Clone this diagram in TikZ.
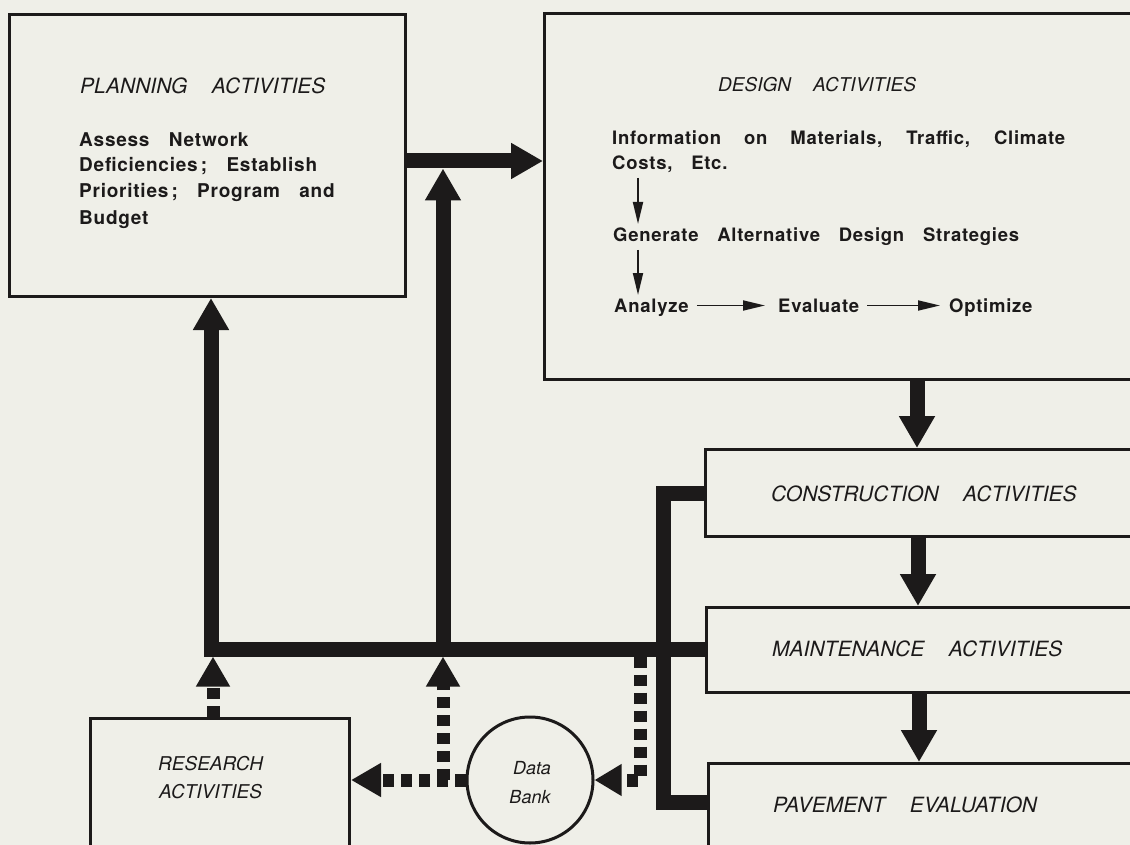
\documentclass[tikz,border=0pt]{standalone}
\usepackage{fontspec}
\setmainfont{TeX Gyre Heros}
\newfontfamily\ttlfont[WordSpace=4.2]{TeX Gyre Heros}
\newfontfamily\bdyfont[WordSpace=3.2,LetterSpace=4]{TeX Gyre Heros}
\usetikzlibrary{arrows.meta,calc}
\definecolor{paper}{HTML}{EFEFE8}
\definecolor{ink}{HTML}{1C1A1A}
\begin{document}
\begin{tikzpicture}[x=1pt,y=-1pt,
  box/.style={draw=ink,line width=3pt,fill=paper,rectangle,inner sep=0pt,anchor=north west},
  bigarrow/.style={draw=ink,line width=15pt,line join=miter,-{Triangle[width=34pt,length=32pt]}},
  busline/.style={draw=ink,line width=15pt,line join=miter},
  dsharrow/.style={draw=ink,line width=13pt,line join=miter,dash pattern=on 11pt off 7pt,-{Triangle[width=32pt,length=30pt]}},
  smallarrow/.style={draw=ink,line width=1.8pt,-{Triangle[width=10pt,length=22pt]}},
  bigtitle/.style={font=\ttlfont\itshape\fontsize{21}{25}\selectfont,text=ink,inner sep=0pt,anchor=base west},
  midtitle/.style={font=\ttlfont\itshape\fontsize{19}{23}\selectfont,text=ink,inner sep=0pt,anchor=base west},
  banktext/.style={font=\ttlfont\itshape\fontsize{18}{22}\selectfont,text=ink,inner sep=0pt,anchor=base},
  plantext/.style={font=\bdyfont\bfseries\fontsize{19}{23}\selectfont,text=ink,inner sep=0pt,anchor=base west},
  destext/.style={font=\bdyfont\bfseries\fontsize{18.5}{22}\selectfont,text=ink,inner sep=0pt,anchor=base west},
  steptext/.style={destext,text height=13pt,text depth=0pt}]
\path[use as bounding box,fill=paper] (0,0) rectangle (1130,845);
\clip (0,0) rectangle (1130,845);

% boxes
\node[box,minimum width=396pt,minimum height=282pt] (plan) at (8,13) {};
\node[box,minimum width=620pt,minimum height=366pt] (design) at (543,12) {};
\node[box,minimum width=460pt,minimum height=87pt] (constr) at (704,448) {};
\node[box,minimum width=460pt,minimum height=85pt] (maint) at (705,606) {};
\node[box,minimum width=460pt,minimum height=120pt] (pave) at (707,762) {};
\node[box,minimum width=259pt,minimum height=150pt] (research) at (89,717) {};
\node[circle,draw=ink,line width=3pt,fill=paper,minimum size=126pt,inner sep=0pt] (bank) at (530,780) {};

% texts
\node[bigtitle] (plantitle) at (80,94) {PLANNING ACTIVITIES};
\node[plantext] (pl1) at (79,147) {Assess Network};
\node[plantext] (pl2) at (79,172) {Deficiencies\,; Establish};
\node[plantext] (pl3) at (79,198) {Priorities\,; Program and};
\node[plantext] (pl4) at (79,225) {Budget};

\node[midtitle] (destitle) at (718,92) {DESIGN ACTIVITIES};
\node[destext] (info) at (612,145) {\makebox[453pt][s]{Information on Materials, Traffic, Climate}};
\node[destext] (costs) at (612,170) {Costs, Etc.};
\node[destext] (gen) at (613,242) {Generate Alternative Design Strategies};
\node[steptext] (ana) at (614,312) {Analyze};
\node[steptext] (eva) at (778,312) {Evaluate};
\node[steptext] (opt) at (949,312) {Optimize};

\node[bigtitle] (contitle) at (771,501) {CONSTRUCTION ACTIVITIES};
\node[bigtitle] (maintitle) at (772,656) {MAINTENANCE ACTIVITIES};
\node[bigtitle] (pavetitle) at (773,812) {PAVEMENT EVALUATION};
\node[midtitle] (res1) at (158,770) {RESEARCH};
\node[midtitle] (res2) at (159,798) {ACTIVITIES};
\node[banktext] (bank1) at (532,774) {Data};
\node[banktext] (bank2) at (530,803) {Bank};

% small arrows inside design box
\coordinate (s1a) at (638,178);
\coordinate (s1b) at (638,224);
\coordinate (s2a) at (638,250);
\coordinate (s2b) at (638,295);
\draw[smallarrow] (s1a) -- (s1b);
\draw[smallarrow] (s2a) -- (s2b);
\draw[smallarrow] ([xshift=8pt]ana.east) -- ([xshift=-13pt]eva.west);
\draw[smallarrow] ([xshift=8pt]eva.east) -- ([xshift=-9pt]opt.west);

% junction coordinates
\coordinate (yflow) at (0,161);
\coordinate (lc) at (211,649);
\coordinate (mc) at (443,649);
\coordinate (mtop) at (443,168.5);
\coordinate (busbot) at (0,656.5);
\coordinate (cx) at (663,0);
\coordinate (ytop) at (0,493);
\coordinate (ybot) at (0,802);
\coordinate (dj) at (443,780);
\coordinate (rj) at (640,656.5);
\coordinate (rc) at (640,780);

% main flow
\draw[bigarrow] (plan.east |- yflow) -- (design.west |- yflow);
\draw[bigarrow] (design.south -| 917,0) -- (constr.north -| 917,0);
\draw[bigarrow] (constr.south -| 918,0) -- (maint.north -| 918,0);
\draw[bigarrow] (maint.south -| 919,0) -- (pave.north -| 919,0);

% feedback bus
\draw[busline] (constr.west |- ytop) -- (cx |- ytop) -- (cx |- ybot) -- (pave.west |- ybot);
\draw[bigarrow] (maint.west |- lc) -- (lc) -- (lc |- plan.south);
\draw[bigarrow] (mc) -- (mtop);

% dashed data links
\draw[dsharrow] (research.north -| 213,0) -- (213,0 |- busbot);
\draw[dsharrow] (bank.west) -- (research.east |- bank.west);
\draw[dsharrow] (dj) -- (dj |- busbot);
\draw[dsharrow,-{Triangle[width=30pt,length=27pt]}] (rj) -- (rc) -- (bank.east);
\end{tikzpicture}
\end{document}
